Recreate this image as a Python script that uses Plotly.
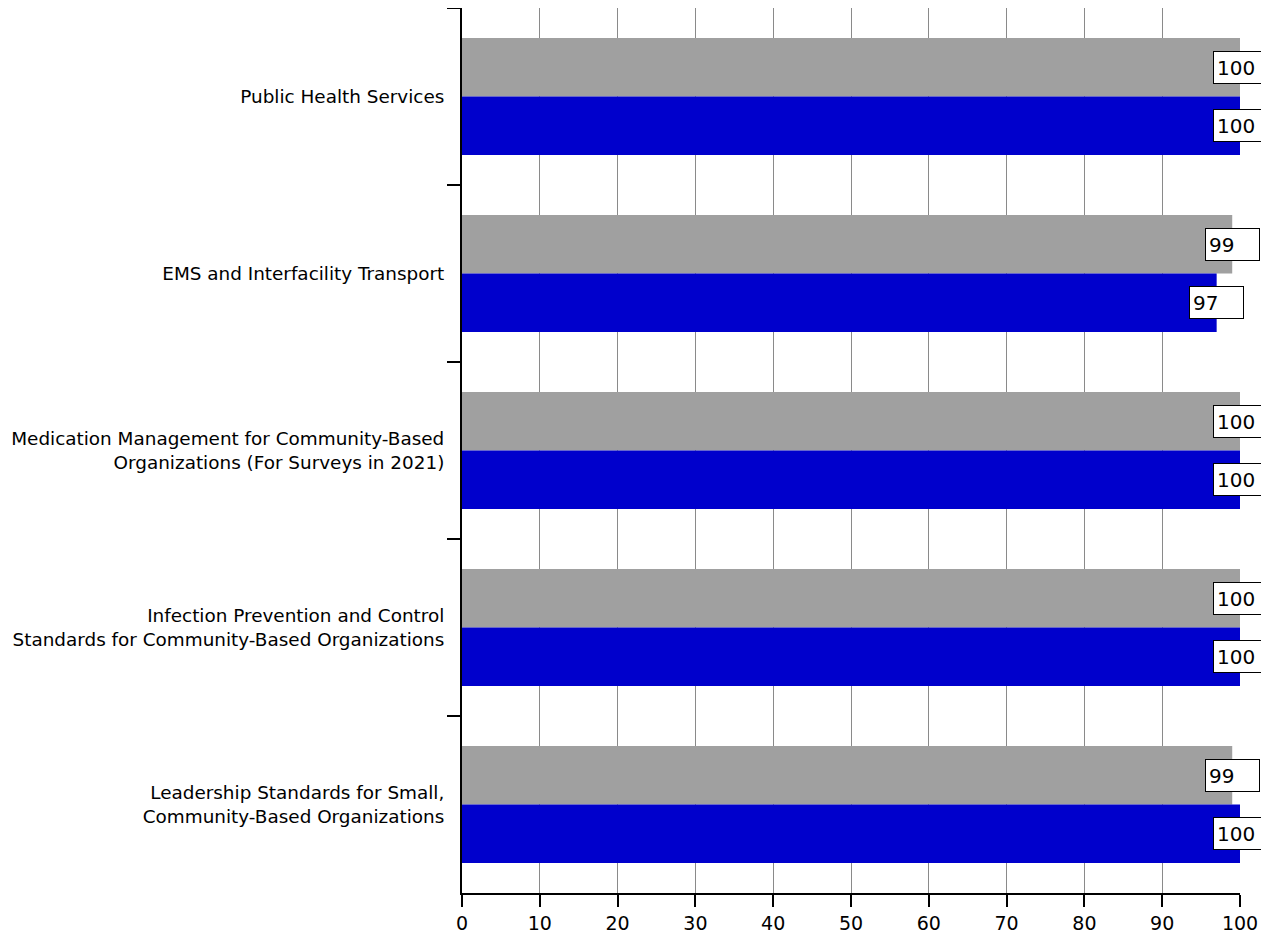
import plotly.graph_objects as go

categories = [
    "Public Health Services",
    "EMS and Interfacility Transport",
    "Medication Management for Community-Based<br>Organizations (For Surveys in 2021)",
    "Infection Prevention and Control<br>Standards for Community-Based Organizations",
    "Leadership Standards for Small,<br>Community-Based Organizations",
]
grey_values = [100, 99, 100, 100, 99]
blue_values = [100, 97, 100, 100, 100]
x_ticks = list(range(0, 101, 10))

GREY = "#A0A0A0"
BLUE = "#0000CC"
FONT = "DejaVu Sans"

fig = go.Figure()
fig.add_trace(go.Bar(y=categories, x=grey_values, orientation="h",
                     marker=dict(color=GREY, line=dict(width=0)), name="grey",
                     hoverinfo="x+y"))
fig.add_trace(go.Bar(y=categories, x=blue_values, orientation="h",
                     marker=dict(color=BLUE, line=dict(width=0)), name="blue",
                     hoverinfo="x+y"))

annotations = []
for series, shift in ((grey_values, 29), (blue_values, -29)):
    for cat, v in zip(categories, series):
        annotations.append(dict(
            x=v, y=cat, xref="x", yref="y", text=str(v), showarrow=False,
            xanchor="center", yanchor="middle", yshift=shift,
            font=dict(family=FONT, size=20, color="black"),
            bgcolor="white", bordercolor="black", borderwidth=1, borderpad=3,
            width=47, height=25, align="left",
        ))

# page body has a default 8px margin, so the figure is shifted by 8px
fig.update_layout(
    width=1261, height=925,
    margin=dict(l=454, r=29, t=0, b=40, autoexpand=False),
    paper_bgcolor="white", plot_bgcolor="white",
    barmode="group", bargap=0.34, bargroupgap=0,
    showlegend=False,
    font=dict(family=FONT, size=19, color="black"),
    annotations=annotations,
    xaxis=dict(
        range=[0, 100], tickvals=x_ticks, ticktext=[str(t) for t in x_ticks],
        showgrid=True, gridcolor="#8A8A8A", gridwidth=1, automargin=False,
        zeroline=False, showline=True, linecolor="black", linewidth=2,
        ticks="outside", ticklen=12, tickcolor="black", tickwidth=2,
        tickfont=dict(family=FONT, size=19, color="black"),
    ),
    yaxis=dict(
        autorange="reversed", type="category", tickson="boundaries",
        showgrid=False, zeroline=False, showline=True, linecolor="black", linewidth=2,
        ticks="outside", ticklen=13, tickcolor="black", tickwidth=2, automargin=False,
        ticklabelstandoff=12,
        tickfont=dict(family=FONT, size=18.4, color="black"),
    ),
)

fig.write_html("out.html")
